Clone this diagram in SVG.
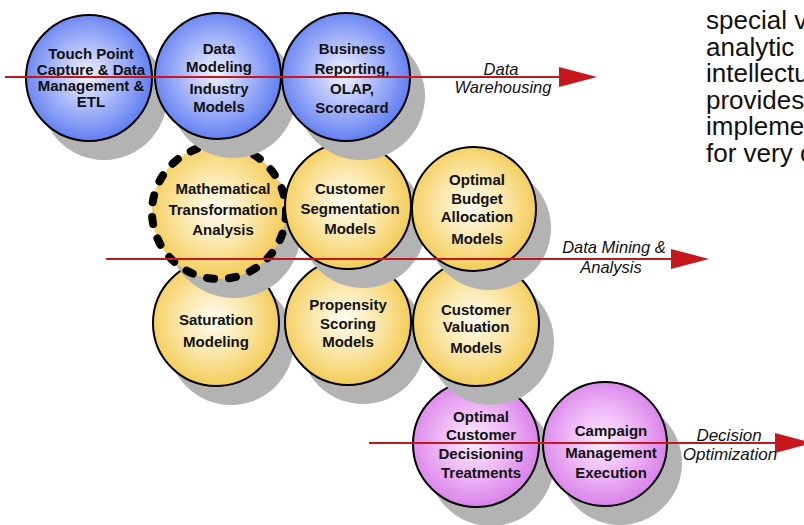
<svg xmlns="http://www.w3.org/2000/svg" width="804" height="525" viewBox="0 0 804 525">
<defs>
<radialGradient id="gBlue" cx="48%" cy="48%" r="55%">
<stop offset="0" stop-color="#f2f4ff"/>
<stop offset="0.45" stop-color="#aebcfa"/>
<stop offset="1" stop-color="#5a79f0"/>
</radialGradient>
<radialGradient id="gYellow" cx="48%" cy="48%" r="55%">
<stop offset="0" stop-color="#fffdf4"/>
<stop offset="0.5" stop-color="#fbe6a6"/>
<stop offset="1" stop-color="#f2c94f"/>
</radialGradient>
<radialGradient id="gPurple" cx="48%" cy="48%" r="55%">
<stop offset="0" stop-color="#fcedfe"/>
<stop offset="0.5" stop-color="#eeb6f6"/>
<stop offset="1" stop-color="#d77de8"/>
</radialGradient>
<marker id="head" markerUnits="userSpaceOnUse" markerWidth="40" markerHeight="22" refX="0" refY="10" orient="auto" viewBox="0 0 40 20">
<path d="M0,0 L38,10 L0,20 Z" fill="#c8161d"/>
</marker>
</defs>
<style>
.sh{fill:#b3b3b3}
.c{stroke:#000;stroke-width:2}
.b{fill:url(#gBlue)}
.y{fill:url(#gYellow)}
.p{fill:url(#gPurple)}
.t{font-family:"Liberation Sans",Arial,sans-serif;font-weight:bold;font-size:15px;fill:#111;text-anchor:middle}
.lbl{font-family:"Liberation Sans",Arial,sans-serif;font-style:italic;font-size:16.5px;fill:#111;text-anchor:middle}
.ln{stroke:#c8161d;stroke-width:2;fill:none}
.side{font-family:"Liberation Sans",Arial,sans-serif;font-size:26px;fill:#111}
</style>
<rect width="804" height="525" fill="#fff"/>

<!-- row 4 -->
<g id="n-optimal-customer">
<circle class="sh" cx="491" cy="463" r="63"/>
<circle class="c p" cx="476" cy="444" r="63"/>
<text class="t"><tspan x="481" y="422">Optimal</tspan><tspan x="481" y="440">Customer</tspan><tspan x="481" y="459">Decisioning</tspan><tspan x="481" y="478">Treatments</tspan></text>
</g>
<g id="n-campaign">
<circle class="sh" cx="620" cy="463" r="62"/>
<circle class="c p" cx="605" cy="444" r="62"/>
<text class="t"><tspan x="611" y="436">Campaign</tspan><tspan x="611" y="458">Management</tspan><tspan x="611" y="478">Execution</tspan></text>
</g>

<!-- row 3 -->
<g id="n-saturation">
<circle class="sh" cx="231" cy="342" r="63"/>
<circle class="c y" cx="216" cy="323" r="63"/>
<text class="t"><tspan x="216" y="325">Saturation</tspan><tspan x="216" y="347">Modeling</tspan></text>
</g>
<g id="n-propensity">
<circle class="sh" cx="363" cy="341" r="63"/>
<circle class="c y" cx="348" cy="322" r="63"/>
<text class="t"><tspan x="348" y="310">Propensity</tspan><tspan x="348" y="329">Scoring</tspan><tspan x="348" y="347">Models</tspan></text>
</g>
<g id="n-valuation">
<circle class="sh" cx="491" cy="342" r="63"/>
<circle class="c y" cx="476" cy="323" r="63"/>
<text class="t"><tspan x="476" y="315">Customer</tspan><tspan x="476" y="332">Valuation</tspan><tspan x="476" y="353">Models</tspan></text>
</g>

<!-- row 2 -->
<g id="n-mathematical">
<circle class="sh" cx="234" cy="231" r="67"/>
<circle class="y" cx="219" cy="212" r="67"/>
<text class="t"><tspan x="223" y="194">Mathematical</tspan><tspan x="223" y="215">Transformation</tspan><tspan x="223" y="235">Analysis</tspan></text>
<circle cx="219" cy="212" r="67" fill="none" stroke="#000" stroke-width="8" stroke-linecap="round" stroke-dasharray="7 15"/>
</g>
<g id="n-segmentation">
<circle class="sh" cx="363" cy="225" r="63"/>
<circle class="c y" cx="348" cy="206" r="63"/>
<text class="t"><tspan x="350" y="194">Customer</tspan><tspan x="350" y="214">Segmentation</tspan><tspan x="350" y="234">Models</tspan></text>
</g>
<g id="n-budget">
<circle class="sh" cx="489" cy="228" r="62"/>
<circle class="c y" cx="474" cy="209" r="62"/>
<text class="t"><tspan x="477" y="185">Optimal</tspan><tspan x="477" y="204">Budget</tspan><tspan x="477" y="222">Allocation</tspan><tspan x="477" y="244">Models</tspan></text>
</g>

<!-- row 1 -->
<g id="n-touchpoint">
<circle class="sh" cx="104" cy="97" r="63"/>
<circle class="c b" cx="89" cy="78" r="63"/>
<text class="t"><tspan x="91" y="59">Touch Point</tspan><tspan x="91" y="75">Capture &amp; Data</tspan><tspan x="91" y="91">Management &amp;</tspan><tspan x="91" y="107">ETL</tspan></text>
</g>
<g id="n-datamodeling">
<circle class="sh" cx="233" cy="95" r="63"/>
<circle class="c b" cx="218" cy="76" r="63"/>
<text class="t"><tspan x="219" y="54">Data</tspan><tspan x="219" y="72">Modeling</tspan><tspan x="219" y="94">Industry</tspan><tspan x="219" y="112">Models</tspan></text>
</g>
<g id="n-business">
<circle class="sh" cx="361" cy="96" r="64"/>
<circle class="c b" cx="346" cy="77" r="64"/>
<text class="t"><tspan x="352" y="54">Business</tspan><tspan x="352" y="74">Reporting,</tspan><tspan x="352" y="94">OLAP,</tspan><tspan x="352" y="113">Scorecard</tspan></text>
</g>

<!-- connectors -->
<g id="connectors">
<line class="ln" x1="5" y1="77" x2="559" y2="77" marker-end="url(#head)"/>
<line class="ln" x1="106" y1="259" x2="671" y2="259" marker-end="url(#head)"/>
<line class="ln" x1="369" y1="443" x2="775" y2="443" marker-end="url(#head)"/>
<text class="lbl"><tspan x="501" y="75">Data</tspan><tspan x="503" y="93">Warehousing</tspan></text>
<text class="lbl"><tspan x="614" y="253">Data Mining &amp;</tspan><tspan x="611" y="273">Analysis</tspan></text>
<text class="lbl" style="font-size:17px"><tspan x="729" y="441">Decision</tspan><tspan x="730" y="460">Optimization</tspan></text>
</g>

<g id="side-text">
<text class="side"><tspan x="706" y="29">special v</tspan><tspan x="706" y="55.5">analytic</tspan><tspan x="706" y="82">intellectu</tspan><tspan x="706" y="108.5">provides</tspan><tspan x="706" y="135">impleme</tspan><tspan x="706" y="161.5">for very c</tspan></text>
</g>
</svg>
